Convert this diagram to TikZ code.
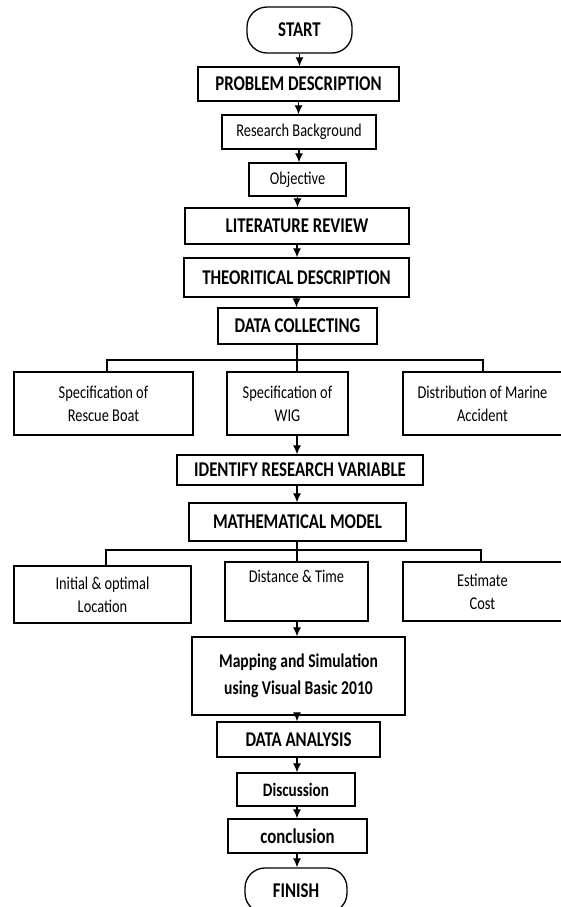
\documentclass[tikz,border=0pt]{standalone}
\usepackage{fontspec}
\setmainfont{Carlito}[FakeStretch=0.8]
\usetikzlibrary{arrows.meta}
\begin{document}
\begin{tikzpicture}[x=1pt,y=-1pt,
  box/.style={draw, line width=1.3pt, inner sep=0pt, align=center,
    font=\fontsize{18}{23}\selectfont},
  hbox/.style={box, font=\fontsize{21}{23}\selectfont\bfseries},
  mbox/.style={box, font=\fontsize{19.5}{27}\selectfont\bfseries},
  term/.style={hbox, rounded corners=20pt},
  arr/.style={line width=1.2pt, -{Latex[length=9pt,width=8pt]}},
  lin/.style={line width=1.3pt}]
\useasboundingbox (0,0) rectangle (560,907);

\node[term, minimum width=105pt, minimum height=46pt] (start) at (299.5,30) {START};
\node[hbox, minimum width=201pt, minimum height=34pt] (prob) at (298.5,84) {PROBLEM DESCRIPTION};
\node[box, minimum width=154pt, minimum height=34pt] (rb) at (299,132) {Research Background};
\node[box, minimum width=97pt, minimum height=33pt] (obj) at (297.5,179.5) {Objective};
\node[hbox, minimum width=224pt, minimum height=36pt] (lit) at (297,226) {LITERATURE REVIEW};
\node[hbox, minimum width=225pt, minimum height=39pt] (theo) at (296.5,277.5) {THEORITICAL DESCRIPTION};
\node[hbox, minimum width=159pt, minimum height=36pt] (dc) at (297.5,326) {DATA COLLECTING};

\node[box, minimum width=179pt, minimum height=63pt] (s1) at (103.5,403.5) {Specification of\\Rescue Boat};
\node[box, minimum width=121pt, minimum height=63pt] (s2) at (287.5,403.5) {Specification of\\WIG};
\node[box, minimum width=159pt, minimum height=63pt] (s3) at (482.5,403.5) {Distribution of Marine\\Accident};

\node[hbox, minimum width=246pt, minimum height=30pt] (irv) at (300,470) {IDENTIFY RESEARCH VARIABLE};
\node[hbox, minimum width=217pt, minimum height=38pt] (mm) at (297.5,522) {MATHEMATICAL MODEL};

\node[box, minimum width=177pt, minimum height=57pt] (m1) at (102.5,594.5) {Initial \& optimal\\Location};
\node[box, minimum width=143pt, minimum height=59pt] (m2) at (296.5,591.5) {Distance \& Time\\\strut};
\node[box, minimum width=159pt, minimum height=59pt] (m3) at (482.5,591.5) {Estimate\\Cost};

\node[mbox, minimum width=213pt, minimum height=78pt] (map) at (298.5,676) {Mapping and Simulation\\using Visual Basic 2010};
\node[hbox, minimum width=163pt, minimum height=35pt] (da) at (298.5,739.5) {DATA ANALYSIS};
\node[mbox, font=\fontsize{19}{23}\selectfont\bfseries, minimum width=118pt, minimum height=33pt] (disc) at (296,789.5) {Discussion};
\node[hbox, minimum width=139pt, minimum height=34pt] (conc) at (297.5,836) {conclusion};
\node[term, minimum width=102pt, minimum height=45pt] (fin) at (296,890.5) {FINISH};

\coordinate (j1) at (297,360);
\coordinate (j2) at (297,550);

\draw[arr] (start.south) -- (start.south |- prob.north);
\draw[arr] (prob.south) -- (prob.south |- rb.north);
\draw[arr] (rb.south) -- (rb.south |- obj.north);
\draw[arr] (obj.south) -- (obj.south |- lit.north);
\draw[arr] (lit.south) -- (lit.south |- theo.north);
\draw[arr] (theo.south) -- (theo.south |- dc.north);

\draw[lin] (dc.south -| j1) -- (j1 |- s2.north);
\draw[lin] (s1.north -| 107,0) -- (107,360) -- (483,360) -- (s3.north -| 483,0);

\draw[arr] (s2.south -| j1) -- (j1 |- irv.north);
\draw[arr] (irv.south -| j1) -- (j1 |- mm.north);

\draw[lin] (mm.south -| j2) -- (j2 |- m2.north);
\draw[lin] (m1.north -| 106,0) -- (106,550) -- (481,550) -- (m3.north -| 481,0);

\draw[arr] (m2.south -| j2) -- (j2 |- map.north);
\draw[arr] (map.south -| j2) -- (j2 |- da.north);
\draw[arr] (da.south -| j2) -- (j2 |- disc.north);
\draw[arr] (disc.south -| j2) -- (j2 |- conc.north);
\draw[arr] (conc.south -| j2) -- (j2 |- fin.north);
\end{tikzpicture}
\end{document}
